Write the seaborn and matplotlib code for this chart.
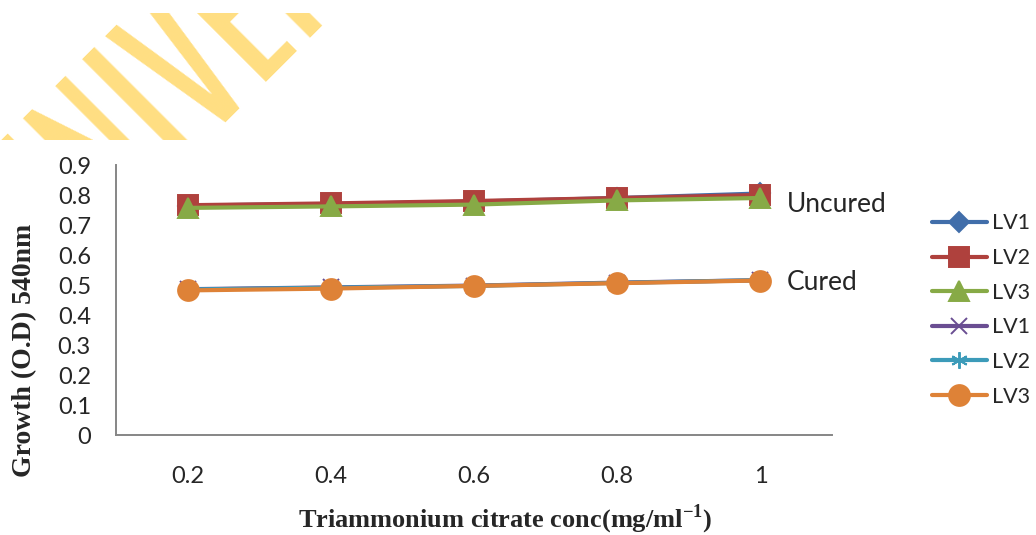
import numpy as np
import pandas as pd
import matplotlib
matplotlib.use("Agg")
import matplotlib.pyplot as plt
import seaborn as sns
from matplotlib.transforms import Bbox, TransformedBbox
from matplotlib.font_manager import FontProperties

# ---------------- data ----------------
conc = [0.2, 0.4, 0.6, 0.8, 1.0]
conc_labels = ["0.2", "0.4", "0.6", "0.8", "1"]
uncured_lv1 = [0.765, 0.770, 0.778, 0.790, 0.805]
uncured_lv2 = [0.766, 0.772, 0.780, 0.790, 0.800]
uncured_lv3 = [0.757, 0.762, 0.768, 0.782, 0.790]
cured_lv1 = [0.486, 0.492, 0.498, 0.508, 0.516]
cured_lv2 = [0.485, 0.491, 0.497, 0.507, 0.516]
cured_lv3 = [0.482, 0.488, 0.497, 0.506, 0.515]
series_labels = ["LV1", "LV2", "LV3", "LV1", "LV2", "LV3"]
y_ticks = [0, 0.1, 0.2, 0.3, 0.4, 0.5, 0.6, 0.7, 0.8, 0.9]
y_tick_labels = ["0", "0.1", "0.2", "0.3", "0.4", "0.5", "0.6", "0.7", "0.8", "0.9"]
group_labels = ["Uncured", "Cured"]
watermark_text = "UNIVERSITY"

# ---------------- style ----------------
sns.set_style("white")
BASE = ["Lato", "DejaVu Sans"]
plt.rcParams["font.family"] = BASE
plt.rcParams["mathtext.fontset"] = "custom"
plt.rcParams["mathtext.bf"] = "Liberation Serif:bold"
plt.rcParams["mathtext.rm"] = "Liberation Serif"
plt.rcParams["lines.solid_capstyle"] = "round"

colors = ["#416EAA", "#AF413D", "#87AA46", "#6A4E92", "#3C9BB9", "#DE8237"]
markers = ["D", "s", "^", "x", (6, 2, 0), "o"]
msizes = [10.5, 14, 15, 12, 12, 15]
series = [uncured_lv1, uncured_lv2, uncured_lv3, cured_lv1, cured_lv2, cured_lv3]

fig = plt.figure(figsize=(10.36, 5.35), dpi=100)
ax = fig.add_axes([116 / 1036, 1 - 435 / 535, (832 - 116) / 1036, (435 - 165) / 535])

handles = []
for vals, c, m, ms, lab in zip(series, colors, markers, msizes, series_labels):
    df = pd.DataFrame({"conc": conc, "od": vals})
    sns.lineplot(data=df, x="conc", y="od", ax=ax, color=c, marker=m,
                 markersize=ms, linewidth=3.0, markeredgecolor=c,
                 markeredgewidth=1.4, legend=False)
    line = ax.get_lines()[-1]
    line.set_label(lab)
    handles.append(line)

# axes
ax.set_xlim(0.1, 1.1)
ax.set_ylim(0, 0.9)
ax.set_xticks(conc)
ax.set_xticklabels(conc_labels)
ax.set_xticks(np.arange(0.1, 1.11, 0.2), minor=True)
ax.set_yticks(y_ticks)
ax.set_yticklabels(y_tick_labels)
ax.tick_params(axis="x", which="major", length=0, pad=22, labelsize=17)
ax.tick_params(axis="x", which="minor", length=6, width=1.3, color="#868686", direction="out")
ax.tick_params(axis="y", length=6, width=1.3, color="#868686", direction="out", labelsize=17, pad=12)
for s in ["top", "right"]:
    ax.spines[s].set_visible(False)
for s in ["left", "bottom"]:
    ax.spines[s].set_color("#868686")
    ax.spines[s].set_linewidth(1.4)
ax.grid(False)

ax.set_xlabel("")
ax.set_ylabel("")
fig.text(505 / 1036, 1 - 519 / 535, r"Triammonium citrate conc(mg/ml$^{\mathbf{-1}}$)",
         ha="center", va="center", fontsize=19, fontweight="bold",
         family="Liberation Serif")
fig.text(25 / 1036, 1 - 350 / 535, "Growth (O.D) 540nm", rotation=90,
         ha="center", va="center", fontsize=20, fontweight="bold",
         family="Liberation Serif")

# group annotations
ax.text(1.037, 0.770, group_labels[0], ha="left", va="center", fontsize=19)
ax.text(1.037, 0.507, group_labels[1], ha="left", va="center", fontsize=19)

# legend
leg = ax.legend(handles=handles, labels=series_labels, loc="center left",
                bbox_to_anchor=(932 / 1036, 1 - 310 / 535),
                bbox_transform=fig.transFigure, frameon=False,
                fontsize=15.5, handlelength=2.55, handletextpad=0.25,
                labelspacing=0.68, borderpad=0, borderaxespad=0)

# watermark (condensed, rotated, clipped like the reference)
wm_family = ["Antonio", "Barlow Condensed", "DejaVu Sans"]
fp = FontProperties(family=wm_family, size=100, weight="light")
renderer = fig.canvas.get_renderer()
def tw(s):
    return renderer.get_text_width_height_descent(s, fp, ismath=False)
_, hI, dI = tw("I")
wm_size = 100 * 145 / (hI - dI)
scale = wm_size / 100
i_center = (tw("UNI")[0] - tw("I")[0] / 2) * scale
anchor_u = 29 - i_center
r2 = np.sqrt(2)
ax_px = (337 + anchor_u * r2) / 2
ay_px = (337 - anchor_u * r2) / 2
wm = fig.text(ax_px / 1036, 1 - ay_px / 535, watermark_text, rotation=45,
              rotation_mode="anchor", ha="left", va="baseline",
              fontsize=wm_size, fontweight="light", color="#FFDE82",
              family=wm_family, zorder=-5)
clip = TransformedBbox(Bbox([[0, 1 - 140 / 535], [1, 1 - 13 / 535]]), fig.transFigure)
wm.set_clip_box(clip)
wm.set_clip_on(True)

fig.savefig("out.png", dpi=100)
